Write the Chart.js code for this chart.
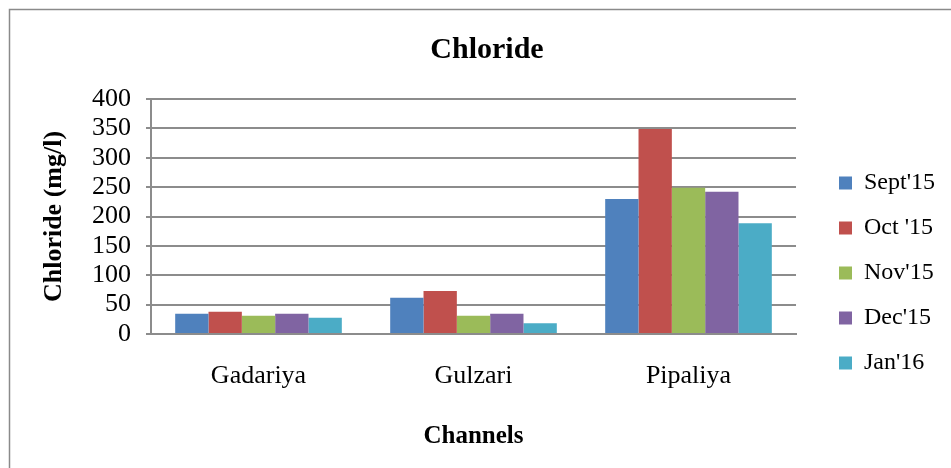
<!DOCTYPE html>
<html>
<head>
<meta charset="utf-8">
<title>Chloride</title>
<script src="https://cdn.jsdelivr.net/npm/chart.js@4.4.0/dist/chart.umd.min.js"></script>
<style>
    html, body { margin: 0; padding: 0; background: #ffffff; }
    #chart-container { width: 951px; height: 468px; position: relative; }
</style>
</head>
<body>
<div id="chart-container"><canvas id="chloride-chart"></canvas></div>
<script>
// values (mg/l)
const channels = ["Gadariya", "Gulzari", "Pipaliya"];
const months = ["Sept'15", "Oct '15", "Nov'15", "Dec'15", "Jan'16"];
const sept15 = [34.6, 61.8, 230];
const oct15 = [38, 73.2, 349];
const nov15 = [31.2, 31.2, 249];
const dec15 = [34.6, 34.6, 242];
const jan16 = [27.8, 18.2, 188.4];
const colors = ["#4F81BD", "#C0504D", "#9BBB59", "#8064A2", "#4BACC6"];

const gridColor = "#8c8c8c";
const serif = "'Liberation Serif', 'Times New Roman', serif";

// plain white background plus the outer frame (top and left edge only)
const framePlugin = {
    id: "frame",
    beforeDraw(chart) {
        const ctx = chart.ctx;
        ctx.save();
        ctx.fillStyle = "#ffffff";
        ctx.fillRect(0, 0, chart.width, chart.height);
        ctx.strokeStyle = "#8a8a8a";
        ctx.lineWidth = 1.5;
        ctx.beginPath();
        ctx.moveTo(9.5, chart.height);
        ctx.lineTo(9.5, 9.5);
        ctx.lineTo(chart.width, 9.5);
        ctx.stroke();
        ctx.restore();
    }
};

const seriesValues = [sept15, oct15, nov15, dec15, jan16];
const datasets = months.map(function (m, i) {
    return {
        label: m,
        data: seriesValues[i],
        backgroundColor: colors[i],
        borderWidth: 0,
        categoryPercentage: 0.775,
        barPercentage: 1.0
    };
});

new Chart(document.getElementById("chloride-chart"), {
    type: "bar",
    data: { labels: channels, datasets: datasets },
    plugins: [framePlugin],
    options: {
        responsive: true,
        maintainAspectRatio: false,
        animation: false,
        layout: { padding: { left: 29, right: 6, top: 0, bottom: 0 } },
        plugins: {
            tooltip: { enabled: false },
            title: {
                display: true,
                text: "Chloride",
                color: "#000000",
                font: { family: serif, size: 30, weight: "bold", lineHeight: 1.2 },
                padding: { top: 32, bottom: 31 }
            },
            legend: {
                position: "right",
                align: "start",
                title: {
                    display: true,
                    text: " ",
                    font: { size: 10, lineHeight: 1 },
                    padding: { top: 140, bottom: 0 }
                },
                labels: {
                    boxWidth: 13,
                    boxHeight: 13,
                    padding: 21,
                    color: "#000000",
                    font: { family: serif, size: 24 }
                }
            }
        },
        scales: {
            x: {
                grid: { display: false, drawTicks: false },
                border: { display: true, color: gridColor, width: 2 },
                ticks: {
                    color: "#000000",
                    padding: 27,
                    maxRotation: 0,
                    font: { family: serif, size: 26 }
                },
                title: {
                    display: true,
                    text: "Channels",
                    color: "#000000",
                    font: { family: serif, size: 25, weight: "bold", lineHeight: 1.2 },
                    padding: { top: 0, bottom: 16 }
                },
                afterFit: function (scale) { scale.height = 134; }
            },
            y: {
                min: 0,
                max: 400,
                grid: { color: gridColor, lineWidth: 2, tickLength: 5, drawTicks: true },
                border: { display: true, color: gridColor, width: 2 },
                ticks: {
                    stepSize: 50,
                    autoSkip: false,
                    color: "#000000",
                    padding: 15,
                    font: { family: serif, size: 26 }
                },
                title: {
                    display: true,
                    text: "Chloride (mg/l)",
                    color: "#000000",
                    font: { family: serif, size: 26, weight: "bold", lineHeight: 1.2 },
                    padding: { top: 10, bottom: 0 }
                },
                afterFit: function (scale) { scale.width = 122; }
            },
            // empty right-hand axis, only keeps the gap between plot and legend
            gap: {
                position: "right",
                display: true,
                grid: { display: false },
                border: { display: false },
                ticks: { display: false },
                afterFit: function (scale) { scale.width = 22; }
            }
        }
    }
});
</script>
</body>
</html>
